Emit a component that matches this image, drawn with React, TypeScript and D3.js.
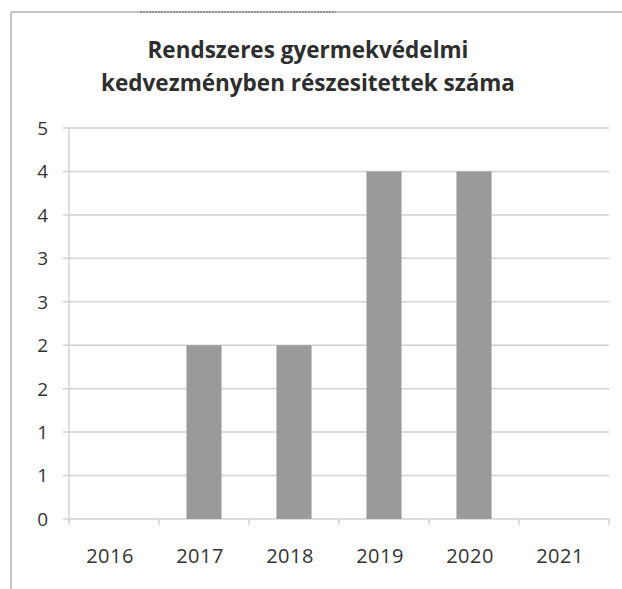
import React from 'react';
import { scaleBand, scaleLinear, range, format } from 'd3';

const width = 622;
const height = 589;
const margin = { top: 128, right: 13, bottom: 70, left: 69 };

const years = ['2016', '2017', '2018', '2019', '2020', '2021'];
const counts = [0, 2, 2, 4, 4, 0];
// Excel axis 0..4.5 step 0.5, labels rounded to whole numbers
const tickValues = range(0, 4.51, 0.5);
const titleLines = ['Rendszeres gyermekvédelmi', 'kedvezményben részesitettek száma'];

const font = '"Open Sans", "DejaVu Sans", sans-serif';

function App() {
  const x = scaleBand()
    .domain(years)
    .range([margin.left, width - margin.right])
    .paddingInner(0.61)
    .paddingOuter(0.305);
  const y = scaleLinear()
    .domain([0, 4.5])
    .range([height - margin.bottom, margin.top]);

  const step = x.step();
  const x0 = margin.left;
  const x1 = width - margin.right;
  const fmt = format('.0f');
  // Excel rounds halves up (0.5 -> 1), d3 rounds to even
  const label = (v: number) => fmt(Math.floor(v + 0.5));

  return (
    <svg width={width} height={height} style={{ position: 'absolute', left: 0, top: 0 }}>
      <rect x={0} y={0} width={width} height={height} fill="#fff" />
      {/* chart frame */}
      <line x1={11} y1={12} x2={width} y2={12} stroke="#c4c4c4" strokeWidth={2} />
      <line x1={11} y1={12} x2={11} y2={height} stroke="#c4c4c4" strokeWidth={2} />
      <line x1={140} y1={12} x2={336} y2={12} stroke="#666" strokeWidth={1} strokeDasharray="2 1" />

      {titleLines.map((t, i) => (
        <text
          key={t}
          x={308}
          y={58 + i * 33}
          textAnchor="middle"
          fontFamily={font}
          fontWeight="bold"
          fontSize={22.5}
          fill="#2e2e2e"
        >
          {t}
        </text>
      ))}

      {/* gridlines + y labels */}
      {tickValues.map((v) => (
        <g key={v}>
          <line x1={x0 - 6} x2={x1} y1={y(v)} y2={y(v)} stroke="#d2d2d2" strokeWidth={1.5} />
          <text
            x={48}
            y={y(v)}
            dy="0.36em"
            textAnchor="end"
            fontFamily={font}
            fontSize={19}
            fill="#333"
          >
            {label(v)}
          </text>
        </g>
      ))}

      {/* y axis line */}
      <line x1={x0} x2={x0} y1={margin.top} y2={y(0) + 6} stroke="#d2d2d2" strokeWidth={1.5} />

      {/* bars */}
      {years.map((yr, i) => (
        <rect
          key={yr}
          x={x(yr)}
          y={y(counts[i])}
          width={x.bandwidth()}
          height={y(0) - y(counts[i])}
          fill="#9a9a9a"
        />
      ))}

      {/* category ticks and labels */}
      {years.map((yr, i) => (
        <g key={yr}>
          <line
            x1={x0 + step * (i + 1)}
            x2={x0 + step * (i + 1)}
            y1={y(0)}
            y2={y(0) + 6}
            stroke="#d2d2d2"
            strokeWidth={1.5}
          />
          <text
            x={(x(yr) ?? 0) + x.bandwidth() / 2 - 4}
            y={563}
            textAnchor="middle"
            fontFamily={font}
            fontSize={20}
            letterSpacing={0.5}
            fill="#333"
          >
            {yr}
          </text>
        </g>
      ))}
    </svg>
  );
}

export default App;
